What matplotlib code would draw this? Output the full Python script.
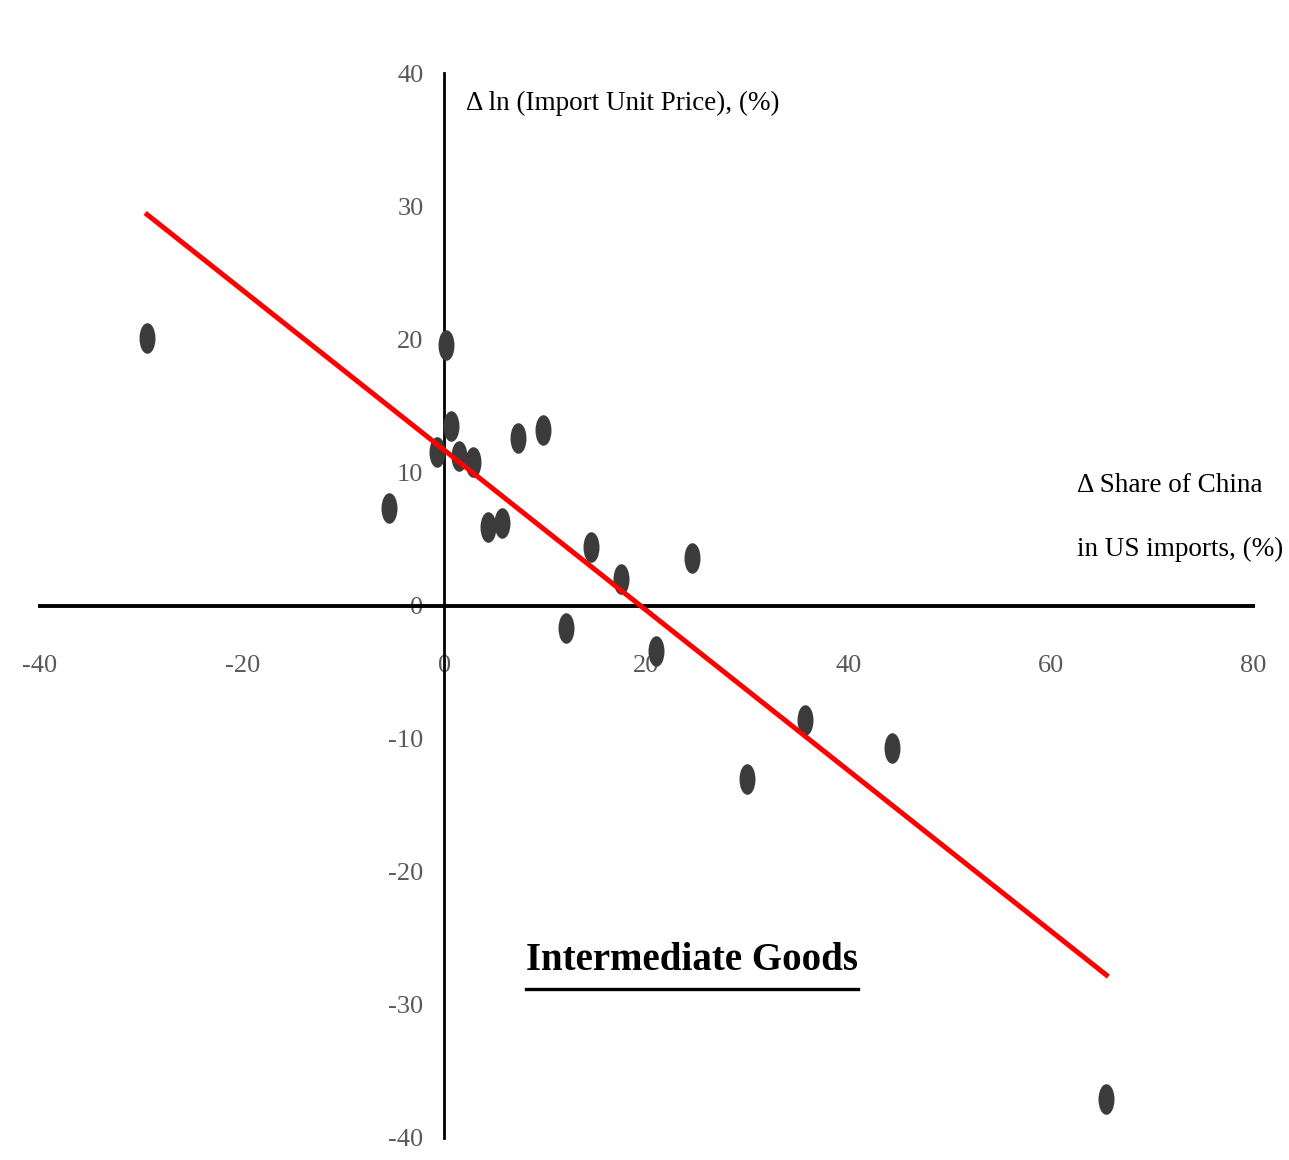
import numpy as np
import matplotlib
matplotlib.use("Agg")
import matplotlib.pyplot as plt
from matplotlib.path import Path
from matplotlib.transforms import Affine2D
from matplotlib.lines import Line2D

# change in China's share of US imports (%)
share_change = [-29.4, 0.2, -0.7, 0.7, 1.5, 2.8, -5.5, 4.3, 5.7, 7.3,
                9.8, 12.0, 14.5, 17.5, 20.9, 24.5, 29.9, 35.7, 44.3, 65.5]
# change in log import unit price (%)
price_change = [20.1, 19.6, 11.5, 13.5, 11.2, 10.8, 7.3, 5.9, 6.2, 12.6,
                13.2, -1.7, 4.4, 2.0, -3.4, 3.6, -13.0, -8.6, -10.7, -37.1]

# trend line as drawn in the original
fit_slope = -0.602
fit_intercept = 11.67

x_ticks = [-40, -20, 0, 20, 40, 60, 80]
y_ticks = [-40, -30, -20, -10, 0, 10, 20, 30, 40]

plt.rcParams['font.family'] = ['Liberation Serif', 'DejaVu Serif']

fig = plt.figure(figsize=(12.89, 11.6), dpi=100)
ax = fig.add_axes([40 / 1289, 1 - 1138 / 1160, 1213 / 1289, 1065 / 1160])
ax.set_xlim(-40, 80)
ax.set_ylim(-40, 40)

# axes crossing at the origin
ax.spines['left'].set_position(('data', 0))
ax.spines['bottom'].set_position(('data', 0))
ax.spines['top'].set_visible(False)
ax.spines['right'].set_visible(False)
ax.spines['bottom'].set_linewidth(2.8)
ax.spines['left'].set_linewidth(2.0)

ax.set_xticks(x_ticks)
ax.set_yticks(y_ticks)
ax.set_xticklabels([str(v) for v in x_ticks])
ax.set_yticklabels([str(v) for v in y_ticks])
ax.tick_params(axis='x', length=0, pad=36, labelsize=19, labelcolor='#595959')
ax.tick_params(axis='y', length=0, pad=15, labelsize=19, labelcolor='#595959')

# dots are stretched vertically in the original
ellipse = Affine2D().scale(0.5, 1.0).transform_path(Path.unit_circle())
ax.plot(share_change, price_change, linestyle='none', marker=ellipse,
        markersize=21, color='#3b3b3b', zorder=3)

# trend line over the data range
fit_x = np.array([min(share_change), max(share_change)])
ax.plot(fit_x, fit_slope * fit_x + fit_intercept, color='#ff0000', lw=3.6,
        zorder=4)

ax.text(2.1, 37.7, "\u0394 ln (Import Unit Price), (%)", fontsize=19.5,
        va='center', ha='left', color='black')
ax.text(62.6, 6.6, "\u0394 Share of China\nin US imports, (%)", fontsize=19.5,
        va='center', ha='left', color='black', linespacing=3.0)

title = ax.text(24.5, -26.7, "Intermediate Goods", fontsize=28,
                fontweight='bold', va='center', ha='center', color='black')

# underline the title
fig.canvas.draw()
bb = title.get_window_extent().transformed(fig.transFigure.inverted())
uy = bb.y0 - 10 / 1160
fig.add_artist(Line2D([bb.x0, bb.x1], [uy, uy], color='black', lw=2.4,
                      transform=fig.transFigure))

fig.savefig('out.png', dpi=100)
